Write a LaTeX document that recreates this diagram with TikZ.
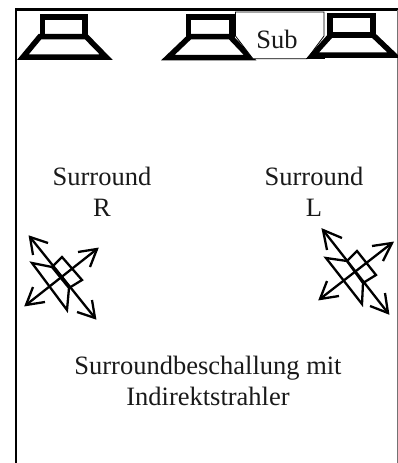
\documentclass[tikz,border=0pt]{standalone}
\usepackage{fontspec}
\setmainfont{Liberation Serif}
\tikzset{
  thick line/.style={line width=2.3pt,line join=miter},
  spk/.style={line width=5.5pt,line join=miter,miter limit=10},
  lbl/.style={font=\fontsize{26.5}{31}\selectfont,align=center,inner sep=0pt,text=black!90}
}
\begin{document}
\begin{tikzpicture}[x=1pt,y=-1pt]
\useasboundingbox (0,0) rectangle (398,463);
% frame
\draw[line width=2.6pt] (15.8,463) -- (15.8,9.5) -- (398,9.5);
\draw[line width=0.8pt,black!55] (397.3,9.5) -- (397.3,463);
% speakers
\draw[spk] (42.5,36.5) -- (42.5,17) -- (85,17) -- (85,36.5) -- cycle;
\draw[spk] (40,36.5) -- (86,36.5) -- (106,57) -- (23,57) -- cycle;
\draw[spk] (188.5,36.5) -- (188.5,17) -- (232,17) -- (232,36.5) -- cycle;
\draw[spk] (190,36.5) -- (230,36.5) -- (250,57.5) -- (168,57.5) -- cycle;
% sub
\draw[fill=white,line width=0.8pt] (235.5,12) -- (324,12) -- (324,36) -- (307,58.8) -- (253,58.8) -- (235.5,36) -- cycle;
\draw[line width=0.8pt] (306,58.8) -- (325,58.8);
\node[lbl] (sub) at (277,39) {Sub};
\draw[spk] (330,35) -- (330,15.5) -- (373,15.5) -- (373,35) -- cycle;
\draw[spk] (331,35) -- (373,35) -- (394,55) -- (313,55) -- cycle;
% labels
\node[lbl] (surr) at (102,192) {Surround\\R};
\node[lbl] (surl) at (314,192) {Surround\\L};
\node[lbl] (cap) at (208,381) {Surroundbeschallung mit\\Indirektstrahler};
% left emitter
\draw[thick line] (52,267) -- (62,257) -- (82,280) -- (69,288) -- (67,310) -- (32,263) -- (52,267) -- (69,288);
\draw[thick line] (30,237) -- (95,318);
\draw[thick line] (97,249) -- (26,305);
\draw[thick line] (48,243) -- (30,237) -- (33,255);
\draw[thick line] (78,252) -- (97,249) -- (90,267);
\draw[thick line] (33,287) -- (26,305) -- (45,302);
\draw[thick line] (77,312) -- (95,318) -- (92,300);
% right emitter
\draw[thick line] (347,261) -- (357,251) -- (376,275) -- (363,283) -- (362,304) -- (326,258) -- (347,261) -- (363,283);
\draw[thick line] (323,230) -- (388,313);
\draw[thick line] (392,243) -- (320,299);
\draw[thick line] (342,238) -- (323,230) -- (327,250);
\draw[thick line] (372,246) -- (392,243) -- (383,261);
\draw[thick line] (327,281) -- (320,299) -- (339,296);
\draw[thick line] (370,306) -- (388,313) -- (385,293);
\end{tikzpicture}
\end{document}
